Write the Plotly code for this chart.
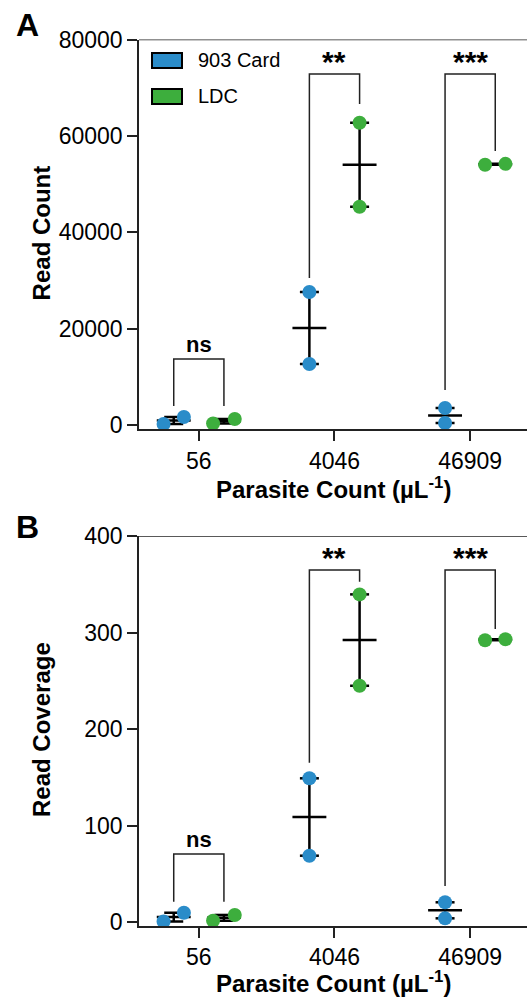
import numpy as np
import plotly.graph_objects as go

# ---------------- data ----------------
categories = ["56", "4046", "46909"]
series_names = ["903 Card", "LDC"]

# Panel A: Read Count (two replicates per group)
count_card = [[200, 1660], [12660, 27600], [415, 3530]]
count_ldc = [[300, 1250], [45300, 62730], [54000, 54200]]

# Panel B: Read Coverage
cov_card = [[0.5, 9.6], [68.7, 148.9], [3.8, 20.4]]
cov_ldc = [[1.3, 7.3], [244.8, 339.5], [292.0, 293.0]]

y_ticks_a = [0, 20000, 40000, 60000, 80000]
y_ticks_b = [0, 100, 200, 300, 400]

sig_labels = ["ns", "**", "***"]

# ---------------- style / layout ----------------
W, H = 527, 997
FONT = "Liberation Sans, Arial, sans-serif"
BLUE = "#2A8CC9"
GREEN = "#3DAE3D"
series_colors = [BLUE, GREEN]
series_offset = [-0.185, 0.185]
jitter = {
    "A": [[[-0.075, 0.075], [0, 0], [0, 0]], [[-0.08, 0.08], [0, 0], [-0.075, 0.075]]],
    "B": [[[-0.075, 0.075], [0, 0], [0, 0]], [[-0.08, 0.08], [0, 0], [-0.075, 0.075]]],
}
# bracket geometry in data units: (top, left leg end, right leg end)
brackets = {
    "A": [(13700, 3940, 3940), (72830, 30500, 66600), (72830, 7260, 56850)],
    "B": [(70.5, 21, 21), (364.7, 165, 352.6), (364.7, 37.3, 303.6)],
}

X0 = 139 / W


def py(px):
    return 1 - px / H


panels = {
    "A": dict(xa="x", ya="y", top=39.5, bottom=429.3, rng=[-890, 80000],
              ticks=y_ticks_a, data=[count_card, count_ldc], title="Read Count",
              xt=488),
    "B": dict(xa="x2", ya="y2", top=536, bottom=926, rng=[-4.15, 400],
              ticks=y_ticks_b, data=[cov_card, cov_ldc], title="Read Coverage",
              xt=982),
}

fig = go.Figure()
annotations = []
shapes = []


def ann(**kw):
    kw.setdefault("xanchor", "center")
    kw.setdefault("yanchor", "middle")
    kw.setdefault("showarrow", False)
    annotations.append(kw)


for key, p in panels.items():
    xa, ya = p["xa"], p["ya"]
    bx, by = [], []
    for g, (top, l_end, r_end) in enumerate(brackets[key]):
        xl = g + series_offset[0]
        xr = g + series_offset[1]
        bx += [xl, xl, xr, xr, None]
        by += [l_end, top, top, r_end, None]
        is_ns = sig_labels[g] == "ns"
        ann(x=g, y=top, xref=xa, yref=ya, text="<b>%s</b>" % sig_labels[g],
            yanchor="bottom", yshift=0 if is_ns else -6,
            font=dict(family=FONT, size=22 if is_ns else 30, color="black"))
    fig.add_trace(go.Scatter(x=bx, y=by, xaxis=xa, yaxis=ya, mode="lines",
                             line=dict(color="#222222", width=1.5),
                             hoverinfo="skip", showlegend=False))
    # error bars: mean +/- SEM
    for s, series in enumerate(p["data"]):
        ex, ey = [], []
        for g, vals in enumerate(series):
            v = np.array(vals, dtype=float)
            m = v.mean()
            sem = v.std(ddof=1) / np.sqrt(len(v))
            c = g + series_offset[s]
            ex += [c - 0.125, c + 0.125, None, c, c, None,
                   c - 0.07, c + 0.07, None, c - 0.07, c + 0.07, None]
            ey += [m, m, None, m - sem, m + sem, None,
                   m - sem, m - sem, None, m + sem, m + sem, None]
        fig.add_trace(go.Scatter(x=ex, y=ey, xaxis=xa, yaxis=ya, mode="lines",
                                 line=dict(color="black", width=2.5),
                                 hoverinfo="skip", showlegend=False))
    # points
    for s, series in enumerate(p["data"]):
        px_, py_ = [], []
        for g, vals in enumerate(series):
            for r, v in enumerate(vals):
                px_.append(g + series_offset[s] + jitter[key][s][g][r])
                py_.append(v)
        fig.add_trace(go.Scatter(x=px_, y=py_, xaxis=xa, yaxis=ya, mode="markers",
                                 marker=dict(color=series_colors[s], size=14,
                                             line=dict(width=0)),
                                 name=series_names[s], showlegend=False))
    shapes.append(dict(type="line", xref="paper", yref=ya, x0=X0, x1=1,
                       y0=p["rng"][1], y1=p["rng"][1],
                       line=dict(color="#222222", width=1.5)))
    ann(x=41 / W, y=py((p["top"] + p["bottom"]) / 2 - 1), xref="paper", yref="paper",
        text="<b>%s</b>" % p["title"], textangle=-90,
        font=dict(family=FONT, size=24, color="black"))
    ann(x=333 / W, y=py(p["xt"]), xref="paper", yref="paper",
        text="<b>Parasite Count (µL<sup>-1</sup>)</b>",
        font=dict(family=FONT, size=24, color="black"))

ann(x=27 / W, y=py(25), xref="paper", yref="paper", text="<b>A</b>",
    font=dict(family=FONT, size=32, color="black"))
ann(x=27 / W, y=py(527), xref="paper", yref="paper", text="<b>B</b>",
    font=dict(family=FONT, size=32, color="black"))

for i, name in enumerate(series_names):
    y0 = 53 + i * 36
    shapes.append(dict(type="rect", xref="paper", yref="paper",
                       x0=152 / W, x1=182 / W, y0=py(y0), y1=py(y0 + 15),
                       fillcolor=series_colors[i], line=dict(color="black", width=2)))
    ann(x=196 / W, y=py(y0 + 7.5), xref="paper", yref="paper", text=name,
        xanchor="left", font=dict(family=FONT, size=20, color="black"))

xaxis_common = dict(
    range=[-0.441, 2.419], domain=[X0, 1], tickmode="array", tickvals=[0, 1, 2],
    ticktext=categories, showline=True, linecolor="#222222", linewidth=1.5,
    ticks="outside", ticklen=10, tickwidth=1.5, tickcolor="#222222",
    showgrid=False, zeroline=False, fixedrange=True, automargin=False,
    tickfont=dict(family=FONT, size=23, color="black"), ticklabelstandoff=0,
)
yaxis_common = dict(
    showline=True, linecolor="#222222", linewidth=1.5, ticks="outside", ticklen=10,
    tickwidth=1.5, tickcolor="#222222", showgrid=False, zeroline=False, automargin=False,
    tickfont=dict(family=FONT, size=23, color="black"), ticklabelstandoff=0,
    fixedrange=True,
)

pa, pb = panels["A"], panels["B"]
fig.update_layout(
    width=W, height=H, margin=dict(l=0, r=0, t=0, b=0, pad=0), autosize=False,
    paper_bgcolor="white", plot_bgcolor="white", showlegend=False,
    xaxis=dict(**xaxis_common, anchor="y"),
    yaxis=dict(**yaxis_common, anchor="x", range=pa["rng"],
               domain=[py(pa["bottom"]), py(pa["top"])], tickmode="array",
               tickvals=pa["ticks"], ticktext=[str(t) for t in pa["ticks"]]),
    xaxis2=dict(**xaxis_common, anchor="y2"),
    yaxis2=dict(**yaxis_common, anchor="x2", range=pb["rng"],
                domain=[py(pb["bottom"]), py(pb["top"])], tickmode="array",
                tickvals=pb["ticks"], ticktext=[str(t) for t in pb["ticks"]]),
    annotations=annotations, shapes=shapes,
)

fig.write_html(
    "out.html",
    config={"displayModeBar": False},
    post_script="document.body.style.margin='0';document.body.style.overflow='hidden';",
)
